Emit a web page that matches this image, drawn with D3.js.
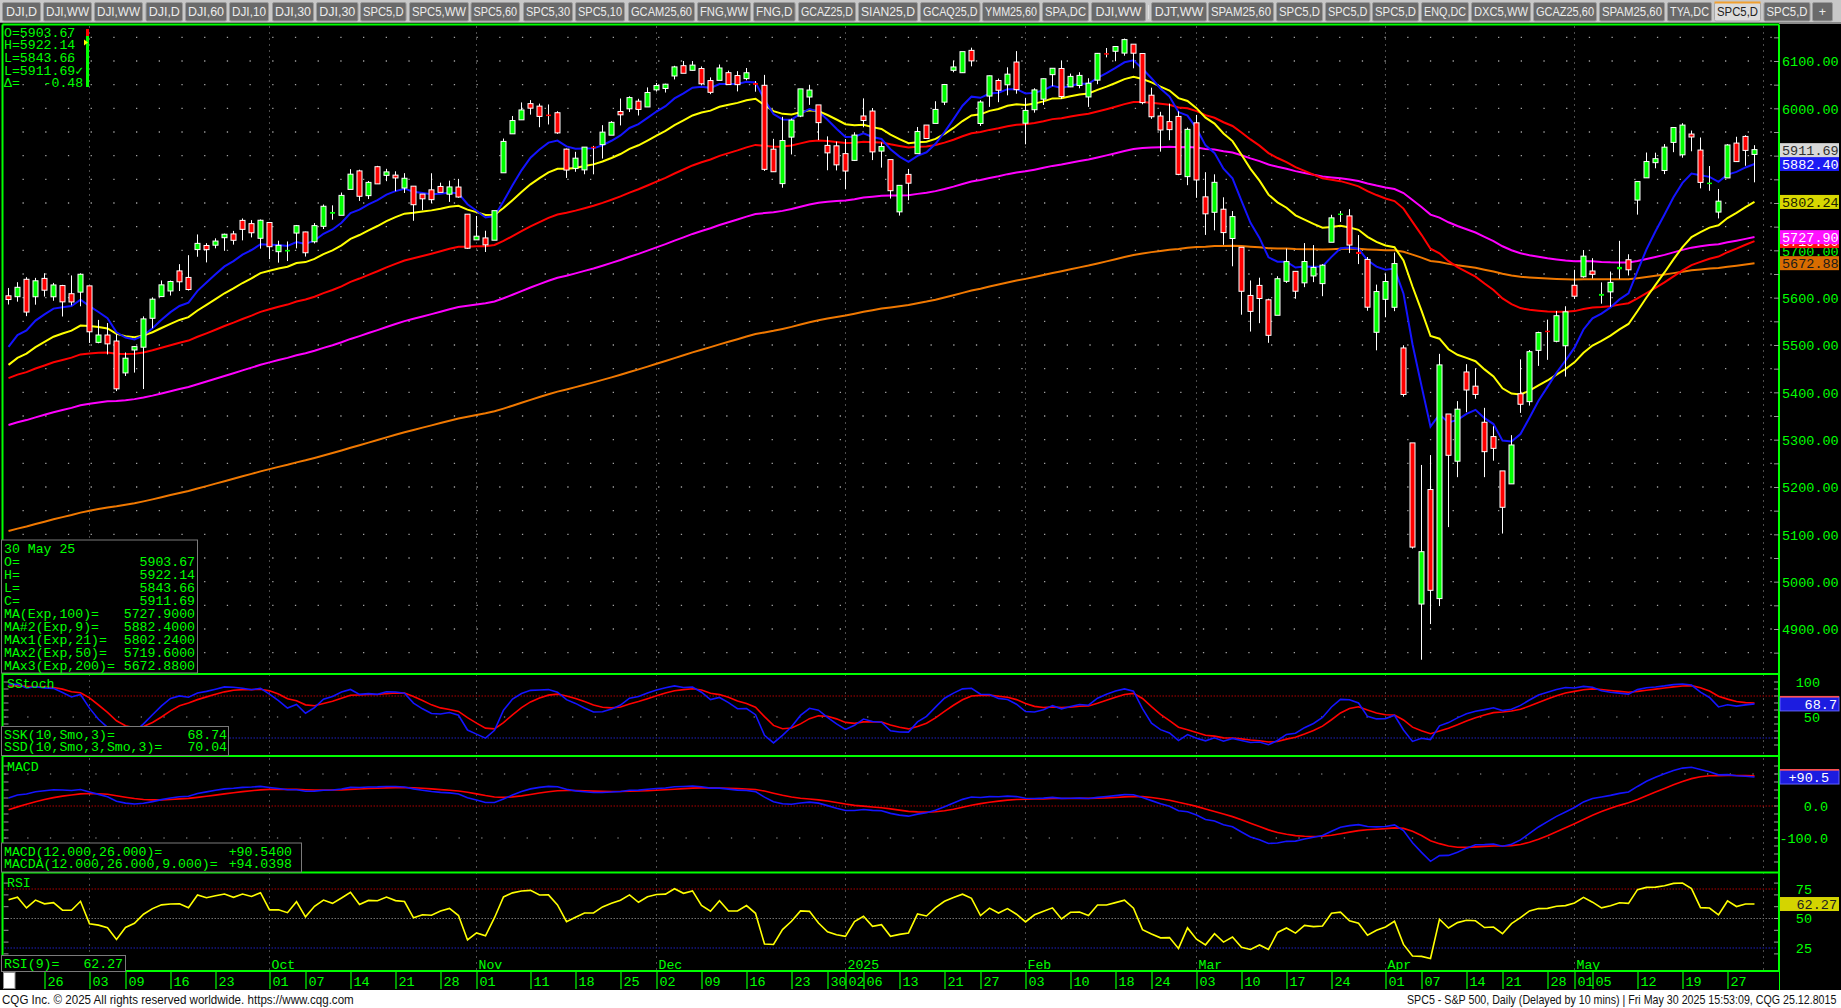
<!DOCTYPE html>
<html><head><meta charset="utf-8"><title>SPC5 - S&amp;P 500, Daily</title>
<script src="https://cdn.jsdelivr.net/npm/d3@7/dist/d3.min.js"></script>
<style>
html,body{margin:0;padding:0;background:#000;overflow:hidden;}
svg{display:block;}
</style></head><body>
<svg id="chart" width="1841" height="1008"></svg>
<script>
// ================= DATA =================
const firstDate = "2024-08-20", lastDate = "2025-05-30", nextSession = "2025-06-02";
const holidays = ["2024-09-02","2024-11-28","2024-12-25","2025-01-01","2025-01-09","2025-01-20","2025-02-17","2025-04-18","2025-05-26"];

const open = [
5602.88,5603.09,5637.77,5602.97,5639.66,5602.89,5624.51,5607.30,5612.74,
5623.89,5506.68,5520.08,5507.33,5442.07,5490.51,5496.42,5557.48,5603.34,5615.21,5655.51,5641.68,5702.63,5709.18,5711.90,5727.75,5733.65,5762.22,5755.36,5726.52,
5757.73,5698.19,5698.56,5737.52,5737.80,5719.14,5751.80,5778.36,5775.09,5829.81,5866.74,5816.58,5875.62,5859.43,5857.82,5832.70,5834.50,5817.80,5826.75,5833.93,5819.68,5832.65,5775.34,
5723.22,5725.15,5722.43,5864.89,5947.21,5976.76,6008.86,6003.60,5985.75,5989.68,5912.79,5874.17,5870.99,5917.73,5924.37,5944.36,5992.28,6000.03,6014.11,6003.98,
6040.11,6042.97,6069.39,6089.03,6081.38,6083.01,6057.59,6060.16,6074.29,6068.17,6063.79,6052.55,6047.65,5912.71,5842.00,5940.25,5984.63,6024.97,6006.17,5920.67,5919.74,
5903.26,5891.07,5982.81,5993.26,5910.66,5890.66,5782.32,5859.38,5905.31,5963.61,5969.23,6014.12,6081.39,6076.32,6121.43,5969.04,6026.97,6057.70,6050.75,6096.79,
5969.65,5998.14,6020.45,6072.22,6083.13,6046.40,6049.32,6025.08,6060.59,6115.52,6121.60,6117.76,6134.50,6114.82,6026.69,5982.73,5970.87,5981.88,5856.74,
5968.33,5811.98,5781.44,5785.87,5726.01,5705.37,5603.65,5624.84,5594.45,5563.85,5635.60,5654.53,5632.37,5646.92,5630.73,5718.08,5775.87,5771.66,5695.64,5679.75,5527.91,
5597.53,5580.76,5492.74,5292.14,4953.79,5193.57,4965.28,5353.15,5255.56,5441.96,5411.99,5335.75,5305.45,5232.94,5207.67,5395.92,5381.38,5489.73,5529.22,5508.87,5499.44,
5625.14,5645.21,5655.32,5605.00,5613.28,5661.00,5679.08,5807.21,5854.23,5886.28,5869.77,5929.09,5902.88,5944.66,5910.79,5841.26,5781.89,5854.07,5925.54,5939.59,5903.67];
const high = [
5620.51,5632.68,5643.22,5641.82,5651.62,5631.18,5627.03,5646.95,5651.37,
5623.89,5552.99,5546.30,5522.47,5484.20,5497.91,5560.41,5600.71,5636.27,5636.05,5670.81,5689.75,5733.57,5715.14,5725.36,5735.32,5741.03,5767.37,5763.78,5765.14,
5757.73,5720.28,5718.78,5753.57,5739.34,5757.60,5796.80,5795.03,5822.13,5871.41,5870.36,5846.52,5878.46,5872.17,5866.92,5863.04,5834.85,5817.80,5862.82,5842.92,5847.19,5850.94,5775.34,
5772.52,5741.43,5783.44,5936.14,5983.84,6012.45,6017.31,6009.92,6008.19,5993.88,5915.00,5908.12,5917.57,5920.67,5964.44,5972.90,6020.75,6025.42,6020.16,6044.17,
6053.58,6052.06,6089.84,6099.97,6099.97,6088.51,6065.40,6092.59,6079.68,6078.58,6085.19,6057.68,6070.67,5935.52,5982.06,5978.25,6040.10,6049.75,6006.17,5940.79,5929.74,
5935.09,5949.34,6021.04,6000.68,5927.89,5890.66,5836.63,5871.92,5960.61,5964.69,6014.96,6051.51,6100.81,6118.73,6128.18,6017.17,6069.09,6062.83,6086.64,6120.91,
6022.13,6042.48,6062.86,6084.03,6101.28,6073.38,6076.28,6063.62,6116.91,6127.47,6129.63,6147.43,6134.50,6114.82,6043.65,5992.65,6009.82,5993.69,5959.40,
5986.09,5865.08,5860.59,5812.08,5783.01,5705.37,5636.30,5642.19,5597.78,5645.27,5703.52,5654.53,5715.33,5711.15,5670.84,5775.10,5783.12,5786.95,5732.28,5685.89,5627.56,
5650.57,5695.31,5499.53,5292.14,5246.59,5267.47,5481.34,5353.15,5381.46,5459.46,5450.41,5367.24,5328.31,5232.94,5309.60,5469.69,5489.40,5528.11,5553.66,5571.95,5581.84,
5658.91,5700.70,5683.42,5632.31,5655.17,5720.10,5691.72,5844.19,5906.63,5906.31,5924.42,5958.62,5968.61,5953.06,5938.37,5878.08,5829.51,5924.33,5939.92,5943.13,5922.14];
const low = [
5585.50,5591.57,5560.95,5585.16,5602.34,5593.48,5560.20,5583.71,5581.79,
5504.33,5503.66,5480.06,5402.62,5434.49,5441.72,5406.96,5535.50,5601.65,5604.53,5614.05,5615.08,5686.42,5674.49,5704.22,5698.99,5712.06,5721.01,5727.34,5703.53,
5681.28,5674.00,5677.36,5704.12,5686.85,5714.56,5745.02,5764.76,5775.09,5829.81,5804.48,5808.34,5840.25,5846.11,5824.81,5821.17,5762.41,5784.92,5799.98,5823.08,5802.34,5811.28,5702.86,
5723.22,5696.51,5722.10,5864.89,5947.21,5976.76,5986.69,5960.08,5965.91,5946.15,5853.01,5865.95,5860.77,5860.58,5893.87,5944.36,5963.91,5992.27,5984.87,6003.98,
6035.33,6033.39,6061.06,6079.98,6079.98,6048.63,6029.89,6060.16,6051.25,6035.77,6059.14,6035.19,5867.79,5866.07,5832.30,5902.57,5981.44,6007.37,5932.95,5869.16,5868.86,
5829.53,5888.66,5960.01,5890.68,5874.78,5809.44,5773.38,5805.58,5905.31,5936.33,5969.23,6006.88,6076.13,6074.67,6088.74,5962.92,6003.08,6012.96,6027.46,6030.93,
5923.93,5990.87,6007.06,6046.83,6019.96,6044.84,6042.34,6003.00,6051.01,6107.62,6099.51,6111.15,6084.59,6008.56,5977.83,5908.49,5932.69,5858.78,5837.66,
5810.91,5732.59,5742.35,5711.64,5666.29,5564.02,5528.41,5546.09,5504.65,5563.85,5631.12,5597.76,5622.20,5632.83,5603.10,5718.08,5759.93,5694.23,5670.94,5572.42,5488.73,
5558.52,5571.48,5390.83,5069.90,4835.04,4910.42,4948.43,5115.27,5220.77,5358.02,5386.44,5220.79,5255.58,5101.63,5207.67,5356.54,5371.96,5455.86,5468.64,5505.70,5433.24,
5597.35,5642.16,5640.53,5587.33,5580.69,5639.88,5646.80,5775.41,5853.78,5873.33,5861.03,5907.36,5895.69,5909.26,5830.91,5825.82,5767.41,5854.07,5886.94,5878.62,5843.66];
const close = [
5597.12,5620.85,5570.64,5634.61,5616.84,5625.80,5592.18,5591.96,5648.40,
5528.93,5520.07,5503.41,5408.42,5471.05,5495.52,5554.13,5595.76,5626.02,5633.09,5634.58,5618.26,5713.64,5702.55,5718.57,5732.93,5722.26,5745.37,5738.17,5762.48,
5708.75,5709.54,5699.94,5751.07,5695.94,5751.13,5792.04,5780.05,5815.03,5859.85,5815.26,5842.47,5841.47,5864.67,5853.98,5851.20,5797.42,5809.86,5808.12,5823.52,5832.92,5813.67,5705.45,
5728.80,5712.69,5782.76,5929.04,5973.10,5995.54,6001.35,5983.99,5985.38,5949.17,5870.62,5893.62,5916.98,5917.11,5948.71,5969.34,5987.37,6021.63,5998.74,6032.38,
6047.15,6049.88,6086.49,6075.11,6090.27,6052.85,6034.91,6084.19,6051.25,6051.09,6074.08,6050.61,5872.16,5867.08,5930.85,5974.07,6040.04,6037.59,5970.84,5906.94,5881.63,
5868.55,5942.47,5975.38,5909.03,5918.25,5827.04,5836.22,5842.91,5949.91,5937.34,5996.66,6049.24,6086.37,6118.71,6101.24,6012.28,6067.70,6039.31,6071.17,6040.53,
5994.57,6037.88,6061.48,6083.57,6025.99,6066.44,6068.50,6051.97,6115.07,6114.63,6129.58,6144.15,6117.52,6013.13,5983.25,5955.25,5956.06,5861.57,5954.50,
5849.72,5778.15,5842.63,5738.52,5770.20,5614.56,5572.07,5599.30,5521.52,5638.94,5675.12,5614.66,5675.29,5662.89,5667.56,5767.57,5776.65,5712.20,5693.31,5580.94,5611.85,
5633.07,5670.97,5396.52,5074.08,5062.25,4982.77,5456.90,5268.05,5363.36,5405.97,5396.63,5275.70,5282.70,5158.20,5287.76,5375.86,5484.77,5525.21,5528.75,5560.83,5569.06,
5604.14,5686.67,5650.38,5606.91,5631.28,5663.94,5659.91,5844.19,5886.55,5892.58,5916.93,5958.38,5963.60,5940.46,5844.61,5842.01,5802.82,5921.54,5888.55,5912.17,5911.69];

// sessions before the first visible bar (Aug 5 - Aug 19), only used to warm up the stochastic
const warmHigh  = [5250.89,5312.34,5330.64,5328.03,5358.38,5371.20,5436.50,5463.22,5544.48,5561.98,5608.30];
const warmLow   = [5119.26,5193.56,5195.54,5233.85,5297.27,5324.37,5376.98,5415.89,5491.61,5525.17,5550.74];
const warmClose = [5186.33,5240.03,5199.50,5319.31,5344.16,5344.39,5434.43,5455.21,5543.22,5554.25,5608.25];

// moving averages (exponential) and their values at the first visible bar
const maPeriods = [9, 21, 50, 100, 200];
const maSeeds   = [5496, 5458, 5430, 5331, 5107];
const macdSeeds = [5480, 5455, -12];   // EMA12, EMA26, signal at first bar
const rsiSeeds  = [28, 14.5];          // avg gain, avg loss at first bar

// right-axis value tags (last values)
const tagValues = [5672.88, 5719.60, 5727.90, 5802.24, 5882.40, 5911.69];

// axis ticks
const priceTicks = [4850,4900,4950,5000,5050,5100,5150,5200,5250,5300,5350,5400,5450,5500,5550,5600,5650,5700,5750,5800,5850,5900,5950,6000,6050,6100,6150];
const priceLabels = [4900,5000,5100,5200,5300,5400,5500,5600,5700,6000,6100]; // 5800 / 5900 sit under value tags
const tickDates = ["2024-08-26","2024-09-03","2024-09-09","2024-09-16","2024-09-23","2024-10-01","2024-10-07","2024-10-14","2024-10-21","2024-10-28","2024-11-01","2024-11-11","2024-11-18","2024-11-25","2024-12-02","2024-12-09","2024-12-16","2024-12-23","2024-12-30","2025-01-02","2025-01-06","2025-01-13","2025-01-21","2025-01-27","2025-02-03","2025-02-10","2025-02-18","2025-02-24","2025-03-03","2025-03-10","2025-03-17","2025-03-24","2025-04-01","2025-04-07","2025-04-14","2025-04-21","2025-04-28","2025-05-01","2025-05-05","2025-05-12","2025-05-19","2025-05-27"];
const monthStarts = ["2024-09-03","2024-10-01","2024-11-01","2024-12-02","2025-01-02","2025-02-03","2025-03-03","2025-04-01","2025-05-01","2025-06-02"];
const monthLabelDates = ["2024-10-01","2024-11-01","2024-12-02","2025-01-02","2025-02-03","2025-03-03","2025-04-01","2025-05-01"];
const monthLabels = ["Oct","Nov","Dec","2025","Feb","Mar","Apr","May"];

// texts
const ohlcLines = ["O=5903.67","H=5922.14","L=5843.66","L=5911.69\u2713","\u0394=   -0.48"];
const dataBoxNames  = ["30 May 25","O=","H=","L=","C=","MA(Exp,100)=","MA#2(Exp,9)=","MAx1(Exp,21)=","MAx2(Exp,50)=","MAx3(Exp,200)="];
const dataBoxValues = ["","5903.67","5922.14","5843.66","5911.69","5727.9000","5882.4000","5802.2400","5719.6000","5672.8800"];
const stochNames = ["SSK(10,Smo,3)=","SSD(10,Smo,3,Smo,3)="], stochValues = ["68.74","70.04"];
const macdNames = ["MACD(12.000,26.000)=","MACDA(12.000,26.000,9.000)="], macdValues = ["+90.5400","+94.0398"];
const rsiName = "RSI(9)=", rsiValue = "62.27";
const tabNames = ["DJI,D","DJI,WW","DJI,WW","DJI,D","DJI,60","DJI,10","DJI,30","DJI,30","SPC5,D","SPC5,WW","SPC5,60","SPC5,30","SPC5,10","GCAM25,60","FNG,WW","FNG,D","GCAZ25,D","SIAN25,D","GCAQ25,D","YMM25,60","SPA,DC","DJI,WW","DJT,WW","SPAM25,60","SPC5,D","SPC5,D","SPC5,D","ENQ,DC","DXC5,WW","GCAZ25,60","SPAM25,60","TYA,DC","SPC5,D","SPC5,D","+"];
const footerLeft = "CQG Inc. \u00A9 2025 All rights reserved worldwide. https://www.cqg.com";
const footerRight = "SPC5 - S&P 500, Daily (Delayed by 10 mins) | Fri May 30 2025 15:53:09, CQG 25.12.8015";

// ================= LAYOUT / STYLE =================
const tabEdges = [[2,41],[43,92],[94,143],[145.5,183],[185,227],[229,269],[272,314],[316,358.5],[360,406.6],[409,469],[470.5,520],[523,573],[575,625],[628,695],[697,751],[753,795.6],[798,856],[858,918],[920,980.5],[982,1040],[1042,1089],[1091,1146],[1151,1207],[1208,1274],[1276,1323],[1325,1370.5],[1372,1419],[1421,1469],[1471,1531],[1533,1597],[1599,1665],[1667,1712],[1714,1761],[1763.5,1810.5],[1812,1833]];
const selectedTab = 32;
const maColors = ["#1414ff","#ffff00","#ff0000","#ff00ff","#f07800"];
const tagFill = ["#d86c00","#ff1010","#ff10ff","#d8d800","#1c1cf4","#d8d8d8"];
const tagText = ["#1a1a1a","#ffffff","#ffffff","#202000","#ffffff","#303030"];
const GREEN = "#00ff00";
const MONO = "'Liberation Mono','DejaVu Sans Mono',monospace";
const SANS = "'Liberation Sans',Arial,sans-serif";
const PL = 2.5, PR = 1779;
const P = {main:[24.5,674], st:[674,756], mc:[756,872.5], rs:[872.5,971]};

// ================= SCALES =================
const fmt = d3.utcFormat("%Y-%m-%d"), parse = d3.utcParse("%Y-%m-%d");
const days = d3.utcDays(parse(firstDate), d3.utcDay.offset(parse(lastDate), 1))
  .filter(d => d.getUTCDay() % 6 !== 0 && !holidays.includes(fmt(d))).map(fmt);
const x = d3.scalePoint().domain(days.concat([nextSession])).range([8.5, 8.5 + 9 * days.length]);
const y = d3.scaleLinear().domain([4900, 6100]).range([629, 61]);
const yS = d3.scaleLinear().domain([0, 100]).range([752, 682]);
const yM = d3.scaleLinear().domain([-100, 0]).range([838, 806]);
const yR = d3.scaleLinear().domain([25, 75]).range([948, 889]);

// ================= INDICATORS =================
function ema(vals, n, seed) {
  const k = 2 / (n + 1); let e = seed;
  return vals.map((v, i) => i === 0 ? e : (e = e + k * (v - e)));
}
const mas = maPeriods.map((n, j) => ema(close, n, maSeeds[j]));
const e12 = ema(close, 12, macdSeeds[0]), e26 = ema(close, 26, macdSeeds[1]);
const macd = e12.map((v, i) => v - e26[i]);
const macdSig = ema(macd, 9, macdSeeds[2]);
const rsi = [];
{ let ag = rsiSeeds[0], al = rsiSeeds[1];
  close.forEach((c, i) => {
    if (i > 0) { const ch = c - close[i - 1]; ag = (ag * 8 + Math.max(ch, 0)) / 9; al = (al * 8 + Math.max(-ch, 0)) / 9; }
    rsi.push(100 - 100 / (1 + ag / al));
  });
}
const ssk = [], ssd = [];
{ const H = warmHigh.concat(high), Lw = warmLow.concat(low), C = warmClose.concat(close), W = warmClose.length;
  let sn = null, sdn = null, dd = null;
  for (let i = 0; i < C.length; i++) {
    const a = Math.max(0, i - 9);
    const hh = d3.max(H.slice(a, i + 1)), ll = d3.min(Lw.slice(a, i + 1));
    const num = C[i] - ll, den = hh - ll;
    sn = sn === null ? num : sn + (num - sn) / 3;
    sdn = sdn === null ? den : sdn + (den - sdn) / 3;
    const k = 100 * sn / sdn;
    dd = dd === null ? k : dd + (k - dd) / 3;
    if (i >= W) { ssk.push(k); ssd.push(dd); }
  }
}

// ================= DRAW =================
const svg = d3.select("#chart");
svg.append("rect").attr("width", 1841).attr("height", 1008).attr("fill", "#000");

// tab bar
const tabs = svg.append("g");
tabs.append("rect").attr("x", 0).attr("y", 0).attr("width", 1841).attr("height", 23).attr("fill", "#c8c8c8");
tabs.append("line").attr("x1", 0).attr("x2", 1841).attr("y1", 22.5).attr("y2", 22.5).attr("stroke", "#8a8a8a");
tabNames.forEach((name, i) => {
  const [a, b] = tabEdges[i], sel = i === selectedTab;
  tabs.append("rect").attr("x", a + 0.5).attr("y", 2.5).attr("width", b - a - 1).attr("height", 18.5)
    .attr("rx", 1.5).attr("fill", sel ? "#dcdcdc" : "#6a6a6a").attr("stroke", sel ? "#a8a8a8" : "#9c9c9c");
  if (sel) tabs.append("rect").attr("x", a + 0.5).attr("y", 1.5).attr("width", b - a - 1).attr("height", 2).attr("fill", "#f0a030");
  const t = tabs.append("text").attr("x", (a + b) / 2).attr("y", 16).attr("text-anchor", "middle")
    .attr("font-family", SANS).attr("font-size", 12.5).attr("fill", sel ? "#222" : "#ececec").text(name);
  const avail = b - a - 6, len = t.node().getComputedTextLength();
  if (len > avail) t.attr("textLength", avail).attr("lengthAdjust", "spacingAndGlyphs");
});
tabs.append("line").attr("x1", 1148.5).attr("x2", 1148.5).attr("y1", 5).attr("y2", 19).attr("stroke", "#e0e0e0");

// clip paths
const defs = svg.append("defs");
Object.entries(P).forEach(([k, [t, b]]) => {
  defs.append("clipPath").attr("id", "clip-" + k).append("rect")
    .attr("x", PL + 1).attr("y", t + 1).attr("width", PR - PL - 2).attr("height", b - t - 2);
});

// ---- grid: vertical month lines
const grid = svg.append("g");
grid.selectAll("line.month").data(monthStarts).join("line")
  .attr("x1", d => x(d)).attr("x2", d => x(d)).attr("y1", P.main[0] + 2).attr("y2", P.rs[1] - 1)
  .attr("stroke", "#9a9a9a").attr("stroke-width", 1).attr("stroke-dasharray", "1 5");
// horizontal dot rows, main panel
grid.selectAll("line.hrow").data(priceTicks.filter(v => y(v) > P.main[0] + 3 && y(v) < P.main[1] - 3)).join("line")
  .attr("x1", PL + 20).attr("x2", PR - 4).attr("y1", d => y(d)).attr("y2", d => y(d))
  .attr("stroke", "#a0a0a0").attr("stroke-width", 1.3).attr("stroke-dasharray", "1.3 21.4");
// sub panel reference rows
function refLine(yy, color, dash) {
  grid.append("line").attr("x1", PL + 2).attr("x2", PR - 2).attr("y1", yy).attr("y2", yy)
    .attr("stroke", color).attr("stroke-width", 1).attr("stroke-dasharray", dash);
}
refLine(yS(80), "#b00000", "1.5 1.5"); refLine(yS(50), "#a0a0a0", "1.3 21.4"); refLine(yS(20), "#2020c0", "1.5 1.5");
refLine(yM(0), "#b00000", "1.5 1.5"); refLine(yM(100), "#a0a0a0", "1.3 21.4"); refLine(yM(-100), "#a0a0a0", "1.3 21.4");
refLine(yR(75), "#b00000", "1.5 1.5"); refLine(yR(50), "#707070", "1.5 1.5"); refLine(yR(25), "#2020c0", "1.5 1.5");

// small edge ticks
function edgeTicks(vals, sc) {
  vals.forEach(v => {
    const yy = sc(v);
    grid.append("line").attr("x1", PL + 1).attr("x2", PL + 6).attr("y1", yy).attr("y2", yy).attr("stroke", "#9a9a9a");
    grid.append("line").attr("x1", PR - 5).attr("x2", PR).attr("y1", yy).attr("y2", yy).attr("stroke", "#9a9a9a");
  });
}
edgeTicks(d3.range(10, 101, 10), yS);
edgeTicks(d3.range(-175, 126, 25).filter(v => yM(v) > P.mc[0] + 2 && yM(v) < P.mc[1] - 2), yM);
edgeTicks(d3.range(20, 81, 10), yR);

// ---- main panel: moving averages
const main = svg.append("g").attr("clip-path", "url(#clip-main)");
const lineGen = sc => d3.line().x((d, i) => x(days[i])).y(d => sc(d));
[4, 3, 2, 1, 0].forEach(j => {
  main.append("path").attr("d", lineGen(y)(mas[j])).attr("fill", "none")
    .attr("stroke", maColors[j]).attr("stroke-width", 2);
});
// candles
const bars = days.map((d, i) => ({d, o: open[i], h: high[i], l: low[i], c: close[i]}));
const cg = main.append("g");
cg.selectAll("line.wick").data(bars).join("line")
  .attr("x1", b => x(b.d)).attr("x2", b => x(b.d)).attr("y1", b => y(b.h)).attr("y2", b => y(b.l))
  .attr("stroke", "#ffffff").attr("stroke-width", 1);
cg.selectAll("rect.body").data(bars).join("rect")
  .attr("x", b => x(b.d) - 2.5).attr("width", 5)
  .attr("y", b => y(Math.max(b.o, b.c)) - 0.5)
  .attr("height", b => Math.max(1.5, Math.abs(y(b.o) - y(b.c)) + 1))
  .attr("fill", b => b.c >= b.o ? "#00ff00" : "#ff0000")
  .attr("stroke", b => Math.abs(y(b.o) - y(b.c)) < 1.5 ? "none" : "#ffffff").attr("stroke-width", 1);

// ---- indicator panels
const st = svg.append("g").attr("clip-path", "url(#clip-st)");
st.append("path").attr("d", lineGen(yS)(ssd)).attr("fill", "none").attr("stroke", "#ff0000").attr("stroke-width", 1.6);
st.append("path").attr("d", lineGen(yS)(ssk)).attr("fill", "none").attr("stroke", "#1414ff").attr("stroke-width", 1.6);
const mc = svg.append("g").attr("clip-path", "url(#clip-mc)");
mc.append("path").attr("d", lineGen(yM)(macdSig)).attr("fill", "none").attr("stroke", "#ff0000").attr("stroke-width", 1.6);
mc.append("path").attr("d", lineGen(yM)(macd)).attr("fill", "none").attr("stroke", "#1414ff").attr("stroke-width", 1.6);
const rs = svg.append("g").attr("clip-path", "url(#clip-rs)");
rs.append("path").attr("d", lineGen(yR)(rsi)).attr("fill", "none").attr("stroke", "#ffff00").attr("stroke-width", 1.6);

// ---- borders
const bd = svg.append("g").attr("stroke", GREEN).attr("stroke-width", 2);
bd.append("line").attr("x1", PL).attr("x2", PR).attr("y1", P.main[0]).attr("y2", P.main[0]);
[P.st[0], P.mc[0], P.rs[0], P.rs[1]].forEach(yy => bd.append("line").attr("x1", PL).attr("x2", PR).attr("y1", yy).attr("y2", yy));
bd.append("line").attr("x1", PL).attr("x2", PL).attr("y1", P.main[0]).attr("y2", P.rs[1]);
bd.append("line").attr("x1", PR).attr("x2", PR).attr("y1", P.main[0]).attr("y2", 990);
svg.append("line").attr("x1", PR).attr("x2", 1841).attr("y1", 23.5).attr("y2", 23.5).attr("stroke", "#8a8a8a");

// ---- top-left OHLC readout
const tl = svg.append("g").attr("font-family", MONO).attr("font-size", 13.2).attr("fill", GREEN);
ohlcLines.forEach((s, i) => tl.append("text").attr("x", 4).attr("y", 36.5 + i * 12.7).attr("xml:space", "preserve").text(s));
svg.append("rect").attr("x", 86).attr("y", 29).attr("width", 3).attr("height", 58).attr("fill", GREEN);
svg.append("rect").attr("x", 86).attr("y", 29).attr("width", 3).attr("height", 7).attr("fill", "#ff0000");
svg.append("path").attr("d", "M84,39.5 L88,42.5 L84,45.5 Z").attr("fill", "#ffff00");

// ---- legend boxes
function legendBox(x0, y0, w, h, names, values, valueRight, baseY, step) {
  const g = svg.append("g");
  g.append("rect").attr("x", x0).attr("y", y0).attr("width", w).attr("height", h)
    .attr("fill", "#000").attr("stroke", "#7a7a7a").attr("stroke-width", 1);
  names.forEach((n, i) => {
    g.append("text").attr("x", 4).attr("y", baseY + i * step).attr("font-family", MONO).attr("font-size", 13.2).attr("fill", GREEN).text(n);
    if (values[i]) g.append("text").attr("x", valueRight).attr("y", baseY + i * step).attr("text-anchor", "end")
      .attr("font-family", MONO).attr("font-size", 13.2).attr("fill", GREEN).text(values[i]);
  });
}
legendBox(1.5, 540, 196, 133, dataBoxNames, dataBoxValues, 195, 553, 12.95);
legendBox(1.5, 726.5, 227, 29, stochNames, stochValues, 227, 738.5, 12.8);
legendBox(1.5, 843, 300, 29, macdNames, macdValues, 292, 855.5, 12.8);
legendBox(1.5, 955.5, 124, 16, [rsiName], [rsiValue], 123, 967.5, 12.8);
const pl = svg.append("g").attr("font-family", MONO).attr("font-size", 13.2).attr("fill", GREEN);
pl.append("text").attr("x", 7).attr("y", 687.5).text("SStoch");
pl.append("text").attr("x", 7).attr("y", 770.5).text("MACD");
pl.append("text").attr("x", 7).attr("y", 886.5).text("RSI");

// ---- right price axis
const ax = svg.append("g").attr("transform", `translate(${PR},0)`)
  .call(d3.axisRight(y).tickValues(priceTicks.filter(v => y(v) > 30 && y(v) < 670))
    .tickFormat(v => priceLabels.includes(v) ? d3.format(".2f")(v) : "").tickSizeInner(-5).tickSizeOuter(0).tickPadding(3));
ax.select(".domain").remove();
ax.selectAll("line").attr("stroke", "#9a9a9a");
ax.selectAll("text").attr("font-family", MONO).attr("font-size", 13.5).attr("fill", GREEN).attr("dy", "0.36em");

// value tags
tagValues.forEach((v, i) => {
  const yy = y(v);
  svg.append("rect").attr("x", 1780).attr("y", yy - 7).attr("width", 59).attr("height", 14).attr("fill", tagFill[i]);
  svg.append("text").attr("x", 1782).attr("y", yy + 4.8).attr("font-family", MONO).attr("font-size", 13.5)
    .attr("fill", tagText[i]).text(d3.format(".2f")(v));
});

// sub-panel right labels
const rl = svg.append("g").attr("font-family", MONO).attr("font-size", 13.5).attr("fill", GREEN);
rl.append("text").attr("x", 1820).attr("y", yS(100) + 4.8).attr("text-anchor", "end").text("100");
rl.append("text").attr("x", 1820).attr("y", yS(50) + 4.8).attr("text-anchor", "end").text("50");
rl.append("text").attr("x", 1828).attr("y", yM(0) + 4.8).attr("text-anchor", "end").text("0.0");
rl.append("text").attr("x", 1828).attr("y", yM(-100) + 4.8).attr("text-anchor", "end").text("-100.0");
[75, 50, 25].forEach(v => rl.append("text").attr("x", 1812).attr("y", yR(v) + 4.8).attr("text-anchor", "end").text(v));
function subTag(val, sc, label, fill, txt, right, redTop) {
  const yy = sc(val);
  svg.append("rect").attr("x", 1780).attr("y", yy - 7).attr("width", 59).attr("height", 14).attr("fill", fill).attr("stroke", redTop ? "#6060ff" : "none");
  if (redTop) svg.append("rect").attr("x", 1780).attr("y", yy - 8).attr("width", 59).attr("height", 1.6).attr("fill", "#ff5050");
  svg.append("text").attr("x", right).attr("y", yy + 4.8).attr("text-anchor", "end").attr("font-family", MONO)
    .attr("font-size", 13.5).attr("fill", txt).text(label);
}
subTag(ssk[ssk.length - 1], yS, "68.7", "#1c1ce0", "#ffffff", 1837, true);
subTag(macd[macd.length - 1], yM, "+90.5", "#1c1ce0", "#ffffff", 1829, true);
subTag(rsi[rsi.length - 1], yR, "62.27", "#d4d400", "#202020", 1837, false);

// ---- month labels
svg.append("g").selectAll("text").data(monthLabelDates).join("text")
  .attr("x", d => x(d) + 2).attr("y", 968.5).attr("font-family", MONO).attr("font-size", 13.2).attr("fill", GREEN)
  .text((d, i) => monthLabels[i]);

// ---- date axis strip
svg.append("rect").attr("x", 0).attr("y", 972).attr("width", PR).attr("height", 18).attr("fill", "#000");
const xa = svg.append("g").attr("transform", "translate(0,972)")
  .call(d3.axisBottom(x).tickValues(tickDates).tickFormat(d => d.slice(8, 10)).tickSizeInner(17).tickSizeOuter(0).tickPadding(0));
xa.select(".domain").remove();
xa.selectAll("line").attr("stroke", GREEN).attr("stroke-width", 1.2);
xa.selectAll("text").attr("text-anchor", "start").attr("x", 2.5).attr("y", 14).attr("dy", 0)
  .attr("font-family", MONO).attr("font-size", 13.5).attr("fill", GREEN);
svg.append("rect").attr("x", 3.5).attr("y", 972.5).attr("width", 11.5).attr("height", 16).attr("fill", "#ffffff").attr("stroke", "#909090");

// ---- footer (narrow text: horizontally scaled to the reference width)
svg.append("rect").attr("x", 0).attr("y", 990).attr("width", 1841).attr("height", 18).attr("fill", "#ffffff");
function footerText(str, x0, targetW, anchorEnd) {
  const t = svg.append("text").attr("x", 0).attr("y", 0).attr("font-family", SANS).attr("font-size", 12.5).attr("fill", "#111").text(str);
  const w = t.node().getComputedTextLength(), s = targetW / w;
  const left = anchorEnd ? x0 - targetW : x0;
  t.attr("transform", `translate(${left},1004) scale(${s},1)`);
}
footerText(footerLeft, 2, 352, false);
footerText(footerRight, 1837, 430, true);
</script>
</body></html>
